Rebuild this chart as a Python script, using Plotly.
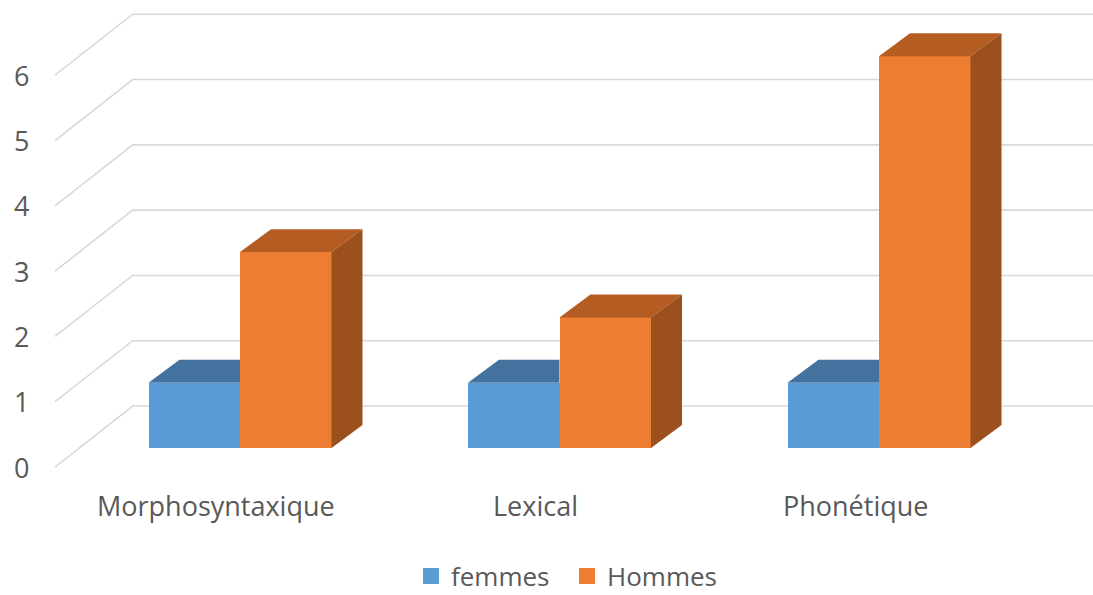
import plotly.graph_objects as go

# ---------------- data ----------------
CATEGORIES = ["Morphosyntaxique", "Lexical", "Phonétique"]
FEMMES = [1, 1, 1]
HOMMES = [3, 2, 6]
Y_TICKS = [0, 1, 2, 3, 4, 5, 6]
SERIES_NAMES = ["femmes", "Hommes"]

# ---------------- style / geometry ----------------
BLUE_FRONT, BLUE_TOP = "#5B9BD5", "#44729E"
ORANGE_FRONT, ORANGE_TOP, ORANGE_SIDE = "#ED7D31", "#B45C22", "#9B501E"
GRID = "#D9D9D9"
TEXT = "#595959"
FONT = "Open Sans"
FS = 26
FS_LAB = 27

X_RANGE = [-0.7512, 2.6698]
Y_RANGE = [-2.251, 6.861]
BAR_W = 0.2864                 # width of one bar (category units)
DX, DY = 0.097, 0.352          # bar depth offset (x units, value units)
FLOOR_DX, FLOOR_DY = -0.075, -0.291   # floor front edge relative to bar front plane
BACK_DY = 0.643                # back wall relative to bar front plane
GX_FRONT, GX_BACK = -0.579, -0.336    # left wall front / back x
YLAB_X = -0.685
CAT_LAB_Y = -0.873

pos = list(range(len(CATEGORIES)))

fig = go.Figure()

# front faces
fig.add_trace(go.Bar(x=pos, y=FEMMES, width=BAR_W, offset=-BAR_W,
                     marker=dict(color=BLUE_FRONT, line=dict(width=0)),
                     name=SERIES_NAMES[0], showlegend=False, hoverinfo="skip"))
fig.add_trace(go.Bar(x=pos, y=HOMMES, width=BAR_W, offset=0,
                     marker=dict(color=ORANGE_FRONT, line=dict(width=0)),
                     name=SERIES_NAMES[1], showlegend=False, hoverinfo="skip"))


def poly(xs, ys, color):
    fig.add_trace(go.Scatter(x=xs + [xs[0]], y=ys + [ys[0]], mode="lines",
                             line=dict(width=0, color=color), fill="toself",
                             fillcolor=color, showlegend=False, hoverinfo="skip"))


for i, (f, h) in enumerate(zip(FEMMES, HOMMES)):
    # blue top (part hidden behind the taller orange bar is clipped)
    x0, x1 = i - BAR_W, i
    if h >= f + DY:
        poly([x0, x1, x1, x0 + DX], [f, f, f + DY, f + DY], BLUE_TOP)
    else:
        poly([x0, x1, x1 + DX, x0 + DX], [f, f, f + DY, f + DY], BLUE_TOP)
    # orange top
    x0, x1 = i, i + BAR_W
    poly([x0, x1, x1 + DX, x0 + DX], [h, h, h + DY, h + DY], ORANGE_TOP)
    # orange side
    poly([x1, x1, x1 + DX, x1 + DX], [0, h, h + DY, DY], ORANGE_SIDE)

# legend entries
for name, col in zip(SERIES_NAMES, [BLUE_FRONT, ORANGE_FRONT]):
    fig.add_trace(go.Scatter(x=[None], y=[None], mode="markers", name=name,
                             marker=dict(symbol="square", size=16, color=col,
                                         line=dict(width=0))))

# gridlines (back wall + left wall), behind the bars
shapes = []
for v in Y_TICKS:
    path = (f"M {GX_FRONT} {v + FLOOR_DY} L {GX_BACK} {v + BACK_DY} "
            f"L {X_RANGE[1]} {v + BACK_DY}")
    shapes.append(dict(type="path", path=path, xref="x", yref="y", layer="below",
                       line=dict(color=GRID, width=1.6)))

annotations = []
for v in Y_TICKS:
    annotations.append(dict(x=YLAB_X, y=v + FLOOR_DY, xref="x", yref="y", text=str(v),
                            showarrow=False, xanchor="center", yanchor="middle",
                            font=dict(family=FONT, size=FS_LAB, color=TEXT)))
for i, c in enumerate(CATEGORIES):
    annotations.append(dict(x=i + FLOOR_DX, y=CAT_LAB_Y, xref="x", yref="y", text=c,
                            showarrow=False, xanchor="center", yanchor="middle",
                            font=dict(family=FONT, size=FS_LAB, color=TEXT)))

fig.update_layout(
    width=1093, height=595, margin=dict(l=0, r=0, t=0, b=0, autoexpand=False),
    paper_bgcolor="white", plot_bgcolor="white",
    barmode="overlay", bargap=0,
    xaxis=dict(range=X_RANGE, visible=False, fixedrange=True),
    yaxis=dict(range=Y_RANGE, visible=False, fixedrange=True),
    shapes=shapes, annotations=annotations,
    showlegend=True,
    legend=dict(orientation="h", x=411 / 1093, xanchor="left", y=1 - 576 / 595,
                yanchor="middle", entrywidth=111, bgcolor="rgba(0,0,0,0)",
                font=dict(family=FONT, size=FS, color=TEXT)),
    font=dict(family=FONT, color=TEXT),
)

fig.write_html("out.html")
